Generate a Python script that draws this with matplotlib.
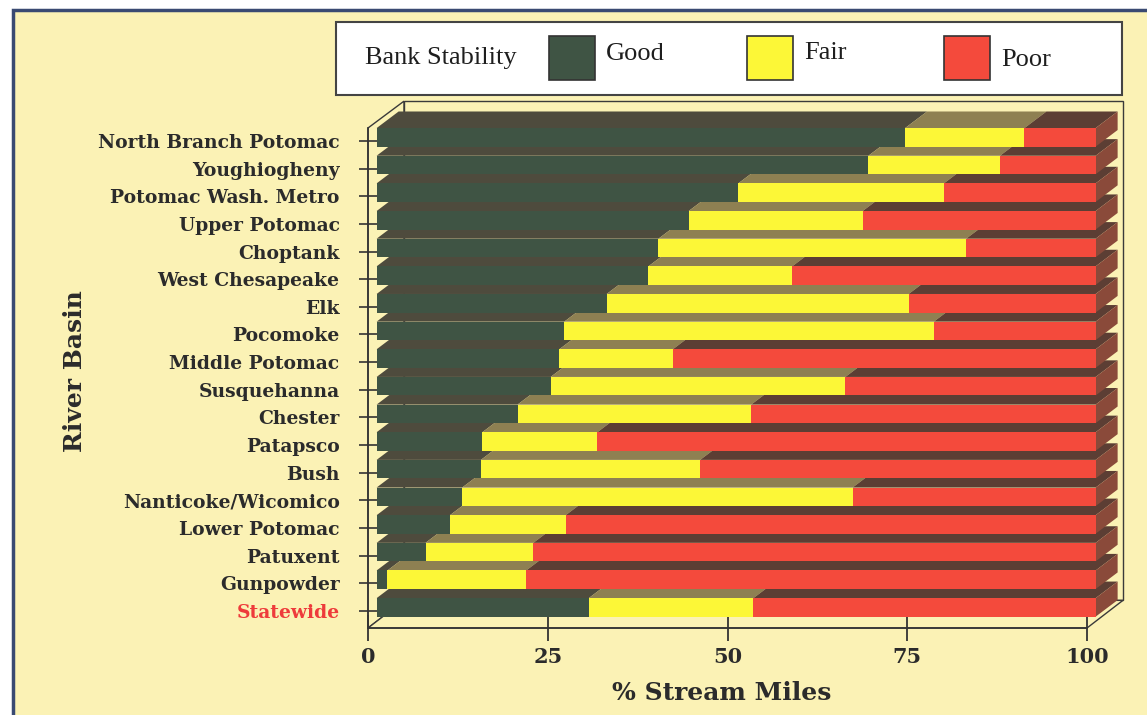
import matplotlib.pyplot as plt
from matplotlib.patches import Polygon, Rectangle

# bank stability by river basin, % of stream miles (top to bottom)
basins = ["North Branch Potomac", "Youghiogheny", "Potomac Wash. Metro",
          "Upper Potomac", "Choptank", "West Chesapeake", "Elk", "Pocomoke",
          "Middle Potomac", "Susquehanna", "Chester", "Patapsco", "Bush",
          "Nanticoke/Wicomico", "Lower Potomac", "Patuxent", "Gunpowder",
          "Statewide"]
good = [73.5, 68.4, 50.3, 43.4, 39.2, 37.8, 32.0, 26.1, 25.4, 24.2, 19.6,
        14.7, 14.5, 11.9, 10.2, 6.8, 1.5, 29.5]
fair = [16.6, 18.3, 28.6, 24.2, 42.8, 20.0, 42.0, 51.4, 15.8, 41.0, 32.5,
        16.0, 30.5, 54.3, 16.1, 15.0, 19.3, 22.9]
poor = [9.9, 13.3, 21.1, 32.4, 18.0, 42.2, 26.0, 22.5, 58.8, 34.8, 47.9,
        69.3, 55.0, 33.8, 73.7, 78.2, 79.2, 47.6]
x_ticks = [0, 25, 50, 75, 100]
categories = ["Good", "Fair", "Poor"]

W, H = 1147, 715
BG = "#FBF2B5"
NAVY = "#3A4A72"
INK = "#2B2B2B"
FRONT = {"Good": "#3F5444", "Fair": "#FCF737", "Poor": "#F44A3C"}
TOP = {"Good": "#4E4B3D", "Fair": "#8E8052", "Poor": "#5C3E34"}
SIDE = "#8A4A3A"
SERIF_B = dict(family="DejaVu Serif", fontweight="bold", color=INK)
SERIF = dict(family="Liberation Serif", color="#1E1E1E")

# depth of the box and the bars, in data units (x in %, y in rows)
WALL_DX, WALL_DY = 5.0, 1.0
BAR_X0, BAR_Y0 = 1.2, 0.13
BAR_H, BAR_DX, BAR_DY = 0.67, 3.06, 0.6


def fx(px):
    return px / W


def fy(py):
    return 1 - py / H


fig = plt.figure(figsize=(W / 100, H / 100), dpi=100, facecolor="white")
fig.add_artist(Rectangle((fx(13), -0.05), 1.1, fy(10) + 0.05,
                         transform=fig.transFigure, facecolor=BG,
                         edgecolor=NAVY, lw=2.5, zorder=-10))

ax = fig.add_axes([fx(368), fy(628), 719 / W, 500 / H])
ax.set_xlim(0, 100)
ax.set_ylim(-0.615, 17.468)
ax.patch.set_visible(False)

n = len(basins)
rows = list(range(n - 1, -1, -1))
y_floor = -0.615
y_back = y_floor + WALL_DY
y_top = 17.468 + WALL_DY * 0.97

# back wall, left wall and floor of the 3-D box
box = dict(facecolor=BG, edgecolor="#3A3A3A", lw=1.0, clip_on=False, zorder=1)
ax.add_patch(Polygon([(WALL_DX, y_back), (100 + WALL_DX, y_back),
                      (100 + WALL_DX, y_top), (WALL_DX, y_top)], **box))
ax.add_patch(Polygon([(0, y_floor), (0, 17.468), (WALL_DX, y_top),
                      (WALL_DX, y_back)], **box))
ax.add_patch(Polygon([(0, y_floor), (100, y_floor), (100 + WALL_DX, y_back),
                      (WALL_DX, y_back)], **box))

series = {"Good": good, "Fair": fair, "Poor": poor}
lefts = [BAR_X0] * n
for cat in categories:
    vals = series[cat]
    ys = [r + BAR_Y0 for r in rows]
    bars = ax.barh(ys, vals, left=lefts, height=BAR_H, color=FRONT[cat],
                   linewidth=0, clip_on=False)
    for i, bar in enumerate(bars):
        k = rows[i]
        # lower rows first so each front face hides the top face below it
        bar.set_zorder(3 + 2 * k)
        l, w = lefts[i], vals[i]
        yt = ys[i] + BAR_H / 2
        ax.add_patch(Polygon([(l, yt), (l + w, yt),
                              (l + w + BAR_DX, yt + BAR_DY),
                              (l + BAR_DX, yt + BAR_DY)],
                             facecolor=TOP[cat], lw=0, zorder=2 + 2 * k,
                             clip_on=False))
        if cat == "Poor":
            xe = l + w
            yb = ys[i] - BAR_H / 2
            ax.add_patch(Polygon([(xe, yb), (xe, yt),
                                  (xe + BAR_DX, yt + BAR_DY),
                                  (xe + BAR_DX, yb + BAR_DY)],
                                 facecolor=SIDE, lw=0, zorder=2 + 2 * k,
                                 clip_on=False))
    lefts = [a + b for a, b in zip(lefts, vals)]

for side in ("top", "right"):
    ax.spines[side].set_visible(False)
for side in ("left", "bottom"):
    ax.spines[side].set_color("#333333")
    ax.spines[side].set_linewidth(1.2)
    ax.spines[side].set_zorder(60)

ax.set_xticks(x_ticks)
ax.set_xticklabels([str(t) for t in x_ticks], fontsize=15, **SERIF_B)
ax.tick_params(axis="x", direction="inout", length=19, width=1.3,
               color="#333333", pad=4)
ax.set_yticks(rows)
ax.set_yticklabels(basins, fontsize=13.5, **SERIF_B)
ax.tick_params(axis="y", direction="inout", length=13, width=1.2,
               color="#333333", pad=14)
ax.get_yticklabels()[-1].set_color("#EE3B3B")

fig.text(fx(722), fy(693), "% Stream Miles", fontsize=18, ha="center",
         va="center", **SERIF_B)
fig.text(fx(75), fy(371), "River Basin", fontsize=18, rotation=90,
         ha="center", va="center", **SERIF_B)

# legend box
fig.add_artist(Rectangle((fx(336), fy(95)), (1122 - 336) / W, 73 / H,
                         transform=fig.transFigure, facecolor="white",
                         edgecolor="#444444", lw=1.5))
fig.text(fx(365), fy(58), "Bank Stability", fontsize=19, ha="left",
         va="center", **SERIF)
for cat, x0, ty in zip(categories, [549, 747, 944], [54, 53, 60]):
    fig.add_artist(Rectangle((fx(x0), fy(80)), 46 / W, 44 / H,
                             transform=fig.transFigure,
                             facecolor=FRONT[cat], edgecolor="#333333",
                             lw=1.2))
    fig.text(fx(x0 + 57), fy(ty), cat, fontsize=19, ha="left",
             va="center", **SERIF)

fig.savefig("out.png", dpi=100, facecolor=fig.get_facecolor())
